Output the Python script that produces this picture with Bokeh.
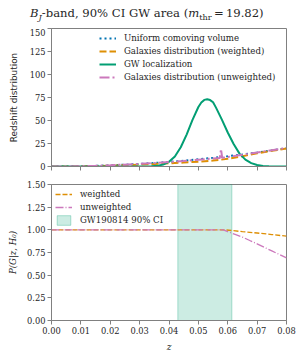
from bokeh.plotting import figure
from bokeh.models import Range1d, FixedTicker, NumeralTickFormatter, Legend, LegendItem, Div
from bokeh.layouts import column
from bokeh.embed import file_html
from bokeh.resources import INLINE

# ---------------- data ----------------
x_ticks = [0.0, 0.01, 0.02, 0.03, 0.04, 0.05, 0.06, 0.07, 0.08]
y_ticks_top = [0, 25, 50, 75, 100, 125, 150]
y_ticks_bot = [0.0, 0.25, 0.5, 0.75, 1.0, 1.25, 1.5]

z_uniform = [0.0, 0.005, 0.01, 0.015, 0.02, 0.025, 0.03, 0.035, 0.04, 0.045, 0.05,
             0.055, 0.06, 0.065, 0.07, 0.075, 0.08]
uniform_vals = [0.0, 0.08, 0.31, 0.70, 1.25, 1.95, 2.8, 3.8, 5.0, 6.3, 7.8,
                9.4, 11.2, 13.1, 15.2, 17.5, 19.8]

z_weighted = [0.0, 0.005, 0.01, 0.015, 0.02, 0.025, 0.03, 0.035, 0.04, 0.045, 0.05,
              0.055, 0.06, 0.065, 0.07, 0.075, 0.08]
weighted_vals = [0.0, 0.05, 0.2, 0.5, 0.9, 1.4, 2.0, 2.7, 3.5, 4.3, 5.2,
                 6.4, 8.3, 11.2, 14.3, 17.0, 19.6]

z_gw = [0.0, 0.02, 0.03, 0.032, 0.034, 0.036, 0.038, 0.040, 0.042, 0.044, 0.046,
        0.048, 0.050, 0.051, 0.052, 0.053, 0.054, 0.055, 0.056, 0.058, 0.060,
        0.062, 0.064, 0.066, 0.068, 0.070, 0.072, 0.074, 0.076, 0.08]
gw_vals = [0.0, 0.0, 0.02, 0.05, 0.2, 0.7, 2.1, 5.1, 10.9, 20.9, 34.7,
           50.7, 64.7, 69.5, 72.4, 73.0, 72.2, 69.8, 64.0, 51.0, 37.0,
           24.5, 14.0, 7.5, 3.7, 1.6, 0.6, 0.2, 0.05, 0.0]

z_unweighted = [0.0, 0.005, 0.01, 0.015, 0.02, 0.0235, 0.024, 0.0245, 0.03, 0.035,
                0.04, 0.045, 0.05, 0.055, 0.0573, 0.0577, 0.0581, 0.06, 0.065,
                0.07, 0.075, 0.08]
unweighted_vals = [0.0, 0.08, 0.32, 0.75, 1.35, 1.9, 3.0, 1.95, 2.8, 3.7,
                   4.8, 6.0, 7.3, 8.6, 9.2, 19.0, 9.4, 10.4, 12.7,
                   15.1, 17.6, 20.3]

z_pw = [0.0, 0.059, 0.065, 0.07, 0.075, 0.08]
pw_vals = [1.0, 1.0, 0.98, 0.965, 0.948, 0.93]

z_pu = [0.0, 0.0585, 0.06, 0.0625, 0.065, 0.0675, 0.07, 0.0725, 0.075, 0.0775, 0.08]
pu_vals = [1.0, 1.0, 0.98, 0.95, 0.92, 0.882, 0.845, 0.806, 0.768, 0.729, 0.69]

ci_low, ci_high = 0.0430, 0.0614

# ---------------- style ----------------
BLUE = "#0173B2"
ORANGE = "#DE8F05"
GREEN = "#029E73"
PINK = "#CC78BC"
SPINE = "#808080"
TXT = "#262626"
SERIF = "DejaVu Serif"
SANS = "DejaVu Sans"
LEFT = 51
RIGHT = 11
W = 297


def style(p):
    p.outline_line_color = SPINE
    p.outline_line_width = 1
    p.xgrid.visible = False
    p.ygrid.visible = False
    for ax in (p.xaxis[0], p.yaxis[0]):
        ax.axis_line_color = SPINE
        ax.major_tick_line_color = SPINE
        ax.major_tick_in = 0
        ax.major_tick_out = 4
        ax.minor_tick_line_color = None
        ax.major_label_text_font = SERIF
        ax.major_label_text_font_size = "8.3px"
        ax.major_label_text_color = TXT
        ax.major_label_standoff = 2
        ax.axis_label_text_color = TXT
    p.xaxis.ticker = FixedTicker(ticks=x_ticks)
    p.xaxis.formatter = NumeralTickFormatter(format="0.00")


def style_legend(lg):
    lg.label_text_font = SERIF
    lg.label_text_font_size = "8.6px"
    lg.label_text_color = TXT
    lg.glyph_width = 17
    lg.glyph_height = 12
    lg.label_height = 12
    lg.label_standoff = 8
    lg.spacing = 1
    lg.padding = 0
    lg.margin = 0
    lg.border_line_color = None
    lg.background_fill_alpha = 0


# ---------------- title ----------------
title = Div(
    text="<i>B</i><sub style='font-size:70%'><i>J</i></sub>-band, 90% CI GW area "
         "(<i>m</i><sub style='font-size:70%'>thr</sub>&#8201;=&#8201;19.82)",
    width=W, height=18,
    styles={"font-family": SERIF, "font-size": "11.6px", "color": TXT,
            "text-align": "left", "line-height": "12px",
            "padding-left": "25px", "padding-top": "2px",
            "box-sizing": "border-box", "white-space": "nowrap"},
)

# ---------------- top panel ----------------
p1 = figure(width=W, height=147, output_backend="svg", toolbar_location=None,
            x_range=Range1d(0, 0.08), y_range=Range1d(0, 150),
            min_border_left=LEFT, min_border_right=RIGHT, min_border_top=0, min_border_bottom=9)
style(p1)
p1.yaxis.ticker = FixedTicker(ticks=y_ticks_top)
p1.yaxis.formatter = NumeralTickFormatter(format="0")
p1.xaxis.major_label_overrides = {t: "" for t in x_ticks}
p1.xaxis.major_label_standoff = 0
p1.yaxis.axis_label = "Redshift distribution"
p1.yaxis.axis_label_text_font = SANS
p1.yaxis.axis_label_text_font_style = "normal"
p1.yaxis.axis_label_text_font_size = "8.9px"
p1.yaxis.axis_label_standoff = 8

r_u = p1.line(z_uniform, uniform_vals, line_color=BLUE, line_width=2, line_dash="2 3")
r_w = p1.line(z_weighted, weighted_vals, line_color=ORANGE, line_width=2, line_dash="7 3")
r_g = p1.line(z_gw, gw_vals, line_color=GREEN, line_width=2)
r_n = p1.line(z_unweighted, unweighted_vals, line_color=PINK, line_width=2, line_dash="10 3 2 3")

leg1 = Legend(items=[
    LegendItem(label="Uniform comoving volume", renderers=[r_u]),
    LegendItem(label="Galaxies distribution (weighted)", renderers=[r_w]),
    LegendItem(label="GW localization", renderers=[r_g]),
    LegendItem(label="Galaxies distribution (unweighted)", renderers=[r_n]),
], location=(48, 83))
style_legend(leg1)
p1.add_layout(leg1)

# ---------------- bottom panel ----------------
p2 = figure(width=W, height=179, output_backend="svg", toolbar_location=None,
            x_range=Range1d(0, 0.08), y_range=Range1d(0, 1.5),
            min_border_left=LEFT, min_border_right=RIGHT, min_border_top=9, min_border_bottom=32)
style(p2)
p2.yaxis.ticker = FixedTicker(ticks=y_ticks_bot)
p2.yaxis.formatter = NumeralTickFormatter(format="0.00")
p2.yaxis.axis_label = "P(G|z, H\u2080)"
p2.yaxis.axis_label_text_font = SERIF
p2.yaxis.axis_label_text_font_style = "italic"
p2.yaxis.axis_label_text_font_size = "8.6px"
p2.yaxis.axis_label_standoff = 6
p2.xaxis.axis_label = "z"
p2.xaxis.axis_label_text_font = SERIF
p2.xaxis.axis_label_text_font_style = "italic"
p2.xaxis.axis_label_text_font_size = "9px"
p2.xaxis.axis_label_standoff = 5

r_ci = p2.quad(left=[ci_low], right=[ci_high], bottom=[0], top=[1.5],
               fill_color=GREEN, fill_alpha=0.2, line_color=GREEN, line_alpha=0.3, line_width=1)
r_pw = p2.line(z_pw, pw_vals, line_color=ORANGE, line_width=1.3, line_dash="5 2")
r_pu = p2.line(z_pu, pu_vals, line_color=PINK, line_width=1.3, line_dash="8 2 1 2")

leg2 = Legend(items=[
    LegendItem(label="weighted", renderers=[r_pw]),
    LegendItem(label="unweighted", renderers=[r_pu]),
    LegendItem(label="GW190814 90% CI", renderers=[r_ci]),
], location=(4, 94))
style_legend(leg2)
p2.add_layout(leg2)

layout = column(title, p1, p2, spacing=0)
open("out.html", "w").write(file_html(layout, INLINE))
